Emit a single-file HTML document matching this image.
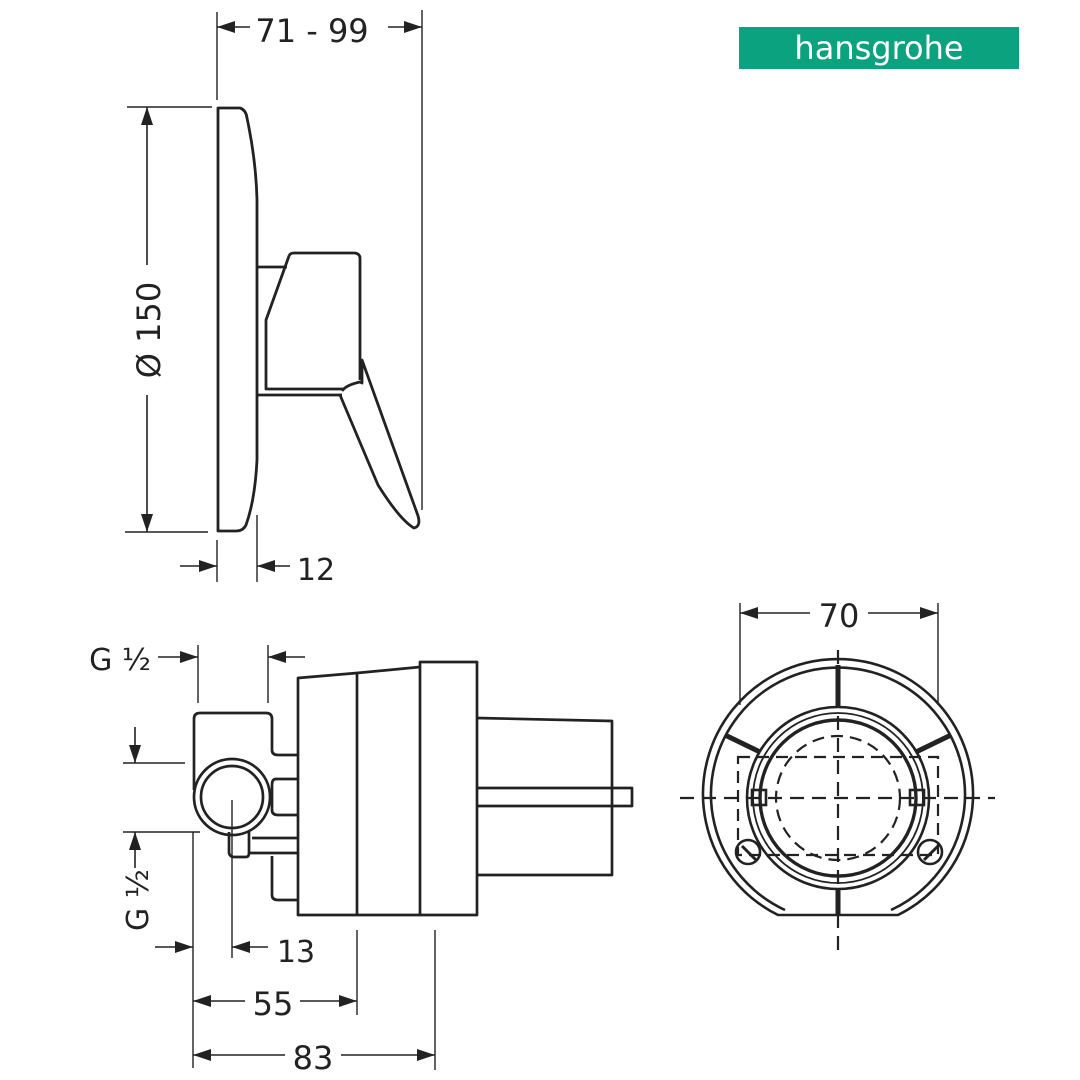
<!DOCTYPE html>
<html><head><meta charset="utf-8"><style>
html,body{margin:0;padding:0;background:#fff;width:1080px;height:1080px;overflow:hidden}
svg{display:block}
text{font-family:"DejaVu Sans","Liberation Sans",sans-serif;fill:#222}
</style></head><body>
<svg width="1080" height="1080" viewBox="0 0 1080 1080" xmlns="http://www.w3.org/2000/svg">
<defs>
<marker id="a" viewBox="0 0 18 12" refX="18" refY="6" markerWidth="18" markerHeight="12" markerUnits="userSpaceOnUse" orient="auto"><path d="M0,0 L18,6 L0,12z" fill="#222"/></marker>
</defs>
<rect x="739" y="27" width="280" height="42" fill="#0aa27f"/>
<text x="879" y="59" font-size="32" text-anchor="middle" style="fill:#fff;font-family:'DejaVu Sans',sans-serif">hansgrohe</text>

<g stroke="#222" fill="none" stroke-width="1.4">
<line x1="217" y1="12" x2="217" y2="100"/>
<line x1="422" y1="10" x2="422" y2="510"/>
<path d="M250,27 L217,27" marker-end="url(#a)" stroke-width="1.6"/>
<path d="M388,27 L422,27" marker-end="url(#a)" stroke-width="1.6"/>
<line x1="127" y1="107" x2="212" y2="107"/>
<line x1="125" y1="532" x2="208" y2="532"/>
<path d="M147,265 L147,107" marker-end="url(#a)" stroke-width="1.6"/>
<path d="M147,395 L147,532" marker-end="url(#a)" stroke-width="1.6"/>
<line x1="217" y1="540" x2="217" y2="582"/>
<line x1="257" y1="515" x2="257" y2="582"/>
<path d="M180,566 L217,566" marker-end="url(#a)" stroke-width="1.6"/>
<path d="M290,566 L257,566" marker-end="url(#a)" stroke-width="1.6"/>
</g>
<text x="312" y="42" font-size="32" text-anchor="middle">71 - 99</text>
<text transform="translate(160,330) rotate(-90)" font-size="32" text-anchor="middle">Ø 150</text>
<text x="316" y="580" font-size="30" text-anchor="middle">12</text>

<g stroke="#222" fill="none" stroke-width="2.8" stroke-linejoin="round">
<path d="M218,108 L240,108 Q246,110 247,118 Q256,160 257,200 L257,460 Q255,500 246,525 Q243,531 236,531 L218,531 Z"/>
<path d="M257,267 L287,267"/>
<path d="M257,395 L342,395"/>
<path d="M289,256 Q290,253 294,253 L355,253 Q360,254 360,258 L360,380"/>
<path d="M289,256 L266,320 L266,389 L344,389"/>
<path d="M342,391 Q346,385 360,382 L362,383 L362,360 L417,513 Q422,526 414,528 Q400,520 378,485 L340,395"/>
</g>

<g stroke="#222" fill="none" stroke-width="1.4">
<line x1="198" y1="645" x2="198" y2="703"/>
<line x1="268" y1="645" x2="268" y2="703"/>
<path d="M158,657 L198,657" marker-end="url(#a)" stroke-width="1.6"/>
<path d="M305,657 L268,657" marker-end="url(#a)" stroke-width="1.6"/>
<line x1="123" y1="763" x2="185" y2="763"/>
<line x1="123" y1="832" x2="200" y2="832"/>
<path d="M135,727 L135,763" marker-end="url(#a)" stroke-width="1.6"/>
<path d="M135,868 L135,832" marker-end="url(#a)" stroke-width="1.6"/>
<line x1="193" y1="832" x2="193" y2="1068"/>
<line x1="232" y1="800" x2="232" y2="958"/>
<line x1="357" y1="930" x2="357" y2="1015"/>
<line x1="435" y1="930" x2="435" y2="1070"/>
<path d="M155,947 L193,947" marker-end="url(#a)" stroke-width="1.6"/>
<path d="M268,947 L232,947" marker-end="url(#a)" stroke-width="1.6"/>
<path d="M245,1001 L193,1001" marker-end="url(#a)" stroke-width="1.6"/>
<path d="M300,1001 L357,1001" marker-end="url(#a)" stroke-width="1.6"/>
<path d="M285,1055 L193,1055" marker-end="url(#a)" stroke-width="1.6"/>
<path d="M341,1055 L435,1055" marker-end="url(#a)" stroke-width="1.6"/>
</g>
<text x="120" y="670" font-size="30" text-anchor="middle">G ½</text>
<text transform="translate(148,900) rotate(-90)" font-size="30" text-anchor="middle">G ½</text>
<text x="296" y="962" font-size="30" text-anchor="middle">13</text>
<text x="273" y="1015" font-size="32" text-anchor="middle">55</text>
<text x="313" y="1069" font-size="32" text-anchor="middle">83</text>

<g stroke="#222" fill="none" stroke-width="2.7" stroke-linejoin="round">
<path d="M194,790 L194,719 Q194,713 200,713 L266,713 Q272,713 272,719 L272,750 Q272,755 278,755 L297,755"/>
<path d="M297,779 L276,779 Q272,779 272,785 L272,810 Q272,815 278,815 L297,815"/>
<path d="M252,838 L297,838 M248,853 L297,853"/>
<path d="M272,856 L272,895 Q272,900 278,900 L297,900"/>
<circle cx="232" cy="797" r="38"/>
<circle cx="232" cy="797" r="31"/>
<path d="M229,832 L229,853 Q230,857 234,857 L246,857 Q249,857 249,853 L249,832"/>
<path d="M298,678 L357,673 L420,667 L420,662 L477,662 L477,915 L298,915 Z"/>
<path d="M357,673 L357,915 M420,667 L420,915"/>
<path d="M477,718 L612,721 L612,875 L477,875"/>
<path d="M477,788 L632,788 L632,806 L477,806"/>
</g>

<g stroke="#222" fill="none" stroke-width="1.4">
<line x1="740" y1="603" x2="740" y2="705"/>
<line x1="938" y1="603" x2="938" y2="705"/>
<path d="M810,613 L740,613" marker-end="url(#a)" stroke-width="1.6"/>
<path d="M868,613 L938,613" marker-end="url(#a)" stroke-width="1.6"/>
<line x1="680" y1="798" x2="995" y2="798" stroke-dasharray="14,8" stroke-width="2.2"/>
<line x1="838" y1="650" x2="838" y2="952" stroke-dasharray="14,8" stroke-width="2.2"/>
<circle cx="838" cy="798" r="62" stroke-dasharray="12,7" stroke-width="2.2"/>
<rect x="738" y="757" width="200" height="98" stroke-dasharray="12,7" stroke-width="2.2"/>
</g>
<text x="839" y="627" font-size="32" text-anchor="middle">70</text>
<g stroke="#222" fill="none" stroke-width="2.6">
<path d="M778,915 A135,135 0 1 1 898,915 Z"/>
<path d="M785,910 A127,127 0 1 1 891,910"/>
<circle cx="838" cy="798" r="91"/>
<circle cx="838" cy="798" r="85" stroke-width="1.8"/>
<circle cx="838" cy="798" r="78" stroke-width="3.4"/>
<rect x="752" y="790" width="14" height="15"/>
<rect x="910" y="790" width="14" height="15"/>
<circle cx="748" cy="852" r="12"/>
<circle cx="930" cy="852" r="12"/>
<path d="M742,846 L756,860 M924,860 L938,846" stroke-width="3"/>
</g>
<g stroke="#222" stroke-width="5">
<line x1="838" y1="665" x2="838" y2="707"/>
<line x1="838" y1="890" x2="838" y2="915"/>
<line x1="725" y1="735" x2="760" y2="752"/>
<line x1="951" y1="735" x2="916" y2="752"/>
</g>
</svg>
</body></html>
